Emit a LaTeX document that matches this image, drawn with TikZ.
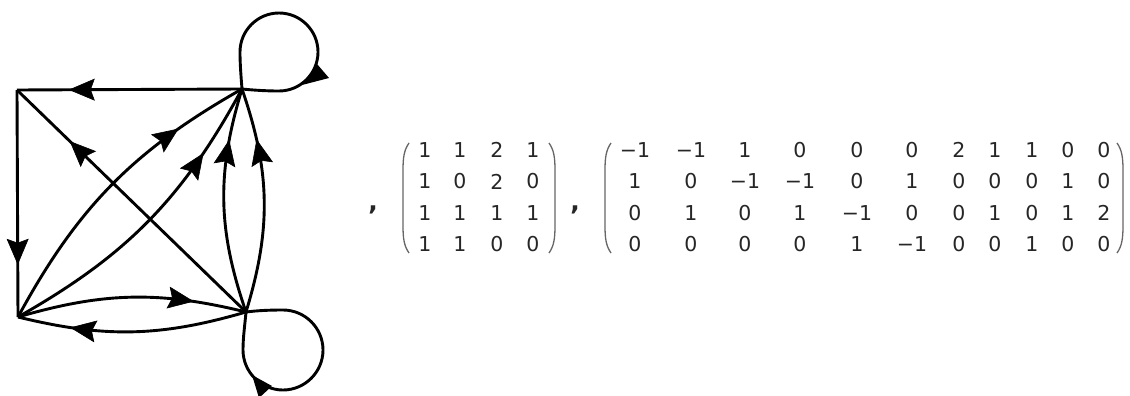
\documentclass[tikz,border=0pt]{standalone}
\usepackage{fontspec}
\setmainfont{DejaVu Sans}
\usetikzlibrary{arrows.meta,decorations.markings}
\begin{document}
\begin{tikzpicture}[x=1pt,y=1pt,
  edge/.style={line width=2.9pt,
    postaction={decorate,decoration={markings,
      mark=at position 0.77 with {\arrow{Stealth[length=26pt,width=22pt,inset=4pt,line width=0.6pt]}}}}},
  loopline/.style={line width=2.9pt},
  tipfill/.style={fill=black},
  entry/.style={font=\fontsize{20.5}{24}\selectfont, text=black!85, inner sep=0pt},
  sep/.style={font=\fontsize{25}{30}\selectfont\bfseries, text=black!85, inner sep=0pt},
  paren/.style={line width=1.3pt, draw=black!60}]
\useasboundingbox (0,0) rectangle (1130,-396);

% vertices
\coordinate (A) at (17,-90);
\coordinate (B) at (242,-89);
\coordinate (C) at (18,-317);
\coordinate (D) at (246,-312);

% straight edges
\draw[edge] (B) -- (A);
\draw[edge] (A) -- (C);
\draw[edge] (D) -- (A);

% curved edges
\draw[edge] (C) to[bend left=16] (B);
\draw[edge] (C) to[bend right=16] (B);
\draw[edge] (D) to[bend left=18] (B);
\draw[edge] (D) to[bend right=18] (B);
\draw[edge] (C) to[bend left=15] (D);
\draw[edge] (D) to[bend left=15] (C);

% self loop at B
\draw[loopline] (B) .. controls (241,-76) and (240,-64) .. (240,-52)
  .. controls (240,-30.5) and (257.5,-13) .. (279,-13)
  .. controls (300.5,-13) and (318,-30.5) .. (318,-52)
  .. controls (318,-73.5) and (300.5,-91) .. (279,-91)
  .. controls (265,-91) and (252,-90) .. (B);
\fill[tipfill] (302,-85) -- (317,-64) -- (329,-78) -- cycle;

% self loop at D
\draw[loopline] (D) .. controls (258,-310.5) and (270,-310) .. (283,-310)
  .. controls (305,-310) and (323,-328) .. (323,-350)
  .. controls (323,-372) and (305,-390) .. (283,-390)
  .. controls (261,-390) and (243,-372) .. (243,-350)
  .. controls (243,-337) and (245,-324) .. (D);
\fill[tipfill] (252,-375) -- (272,-386) -- (259,-398) -- cycle;

% separators
\node[sep] (comma1) at (373,-210) {,};
\node[sep] (comma2) at (575,-210) {,};

% first matrix
\def\colsA{{425,460,497,533}}
\foreach \yy/\row [count=\r] in {150/{1,1,2,1},181.5/{1,0,2,0},213/{1,1,1,1},244.5/{1,1,0,0}}{
  \foreach \e [count=\i] in \row {
    \pgfmathsetmacro\xx{\colsA[\i-1]}
    \node[entry] (ma-\r-\i) at (\xx,-\yy) {\e};
  }
}
\draw[paren] (409,-143) .. controls (404,-150) and (403,-158) .. (403,-170) -- (403,-226)
  .. controls (403,-238) and (404,-246) .. (409,-253);
\draw[paren] (549,-143) .. controls (554,-150) and (555,-158) .. (555,-170) -- (555,-226)
  .. controls (555,-238) and (554,-246) .. (549,-253);

% second matrix
\def\colsB{{635,691,745,800,857,912,959,995,1032,1068,1104}}
\foreach \yy/\row [count=\r] in {
  150/{−1,−1,1,0,0,0,2,1,1,0,0},
  181.5/{1,0,−1,−1,0,1,0,0,0,1,0},
  213/{0,1,0,1,−1,0,0,1,0,1,2},
  244.5/{0,0,0,0,1,−1,0,0,1,0,0}}{
  \foreach \e [count=\i] in \row {
    \pgfmathsetmacro\xx{\colsB[\i-1]}
    \node[entry] (mb-\r-\i) at (\xx,-\yy) {\e};
  }
}
\draw[paren] (611,-143) .. controls (606,-150) and (605,-158) .. (605,-170) -- (605,-226)
  .. controls (605,-238) and (606,-246) .. (611,-253);
\draw[paren] (1117,-143) .. controls (1122,-150) and (1123,-158) .. (1123,-170) -- (1123,-226)
  .. controls (1123,-238) and (1122,-246) .. (1117,-253);
\end{tikzpicture}
\end{document}
